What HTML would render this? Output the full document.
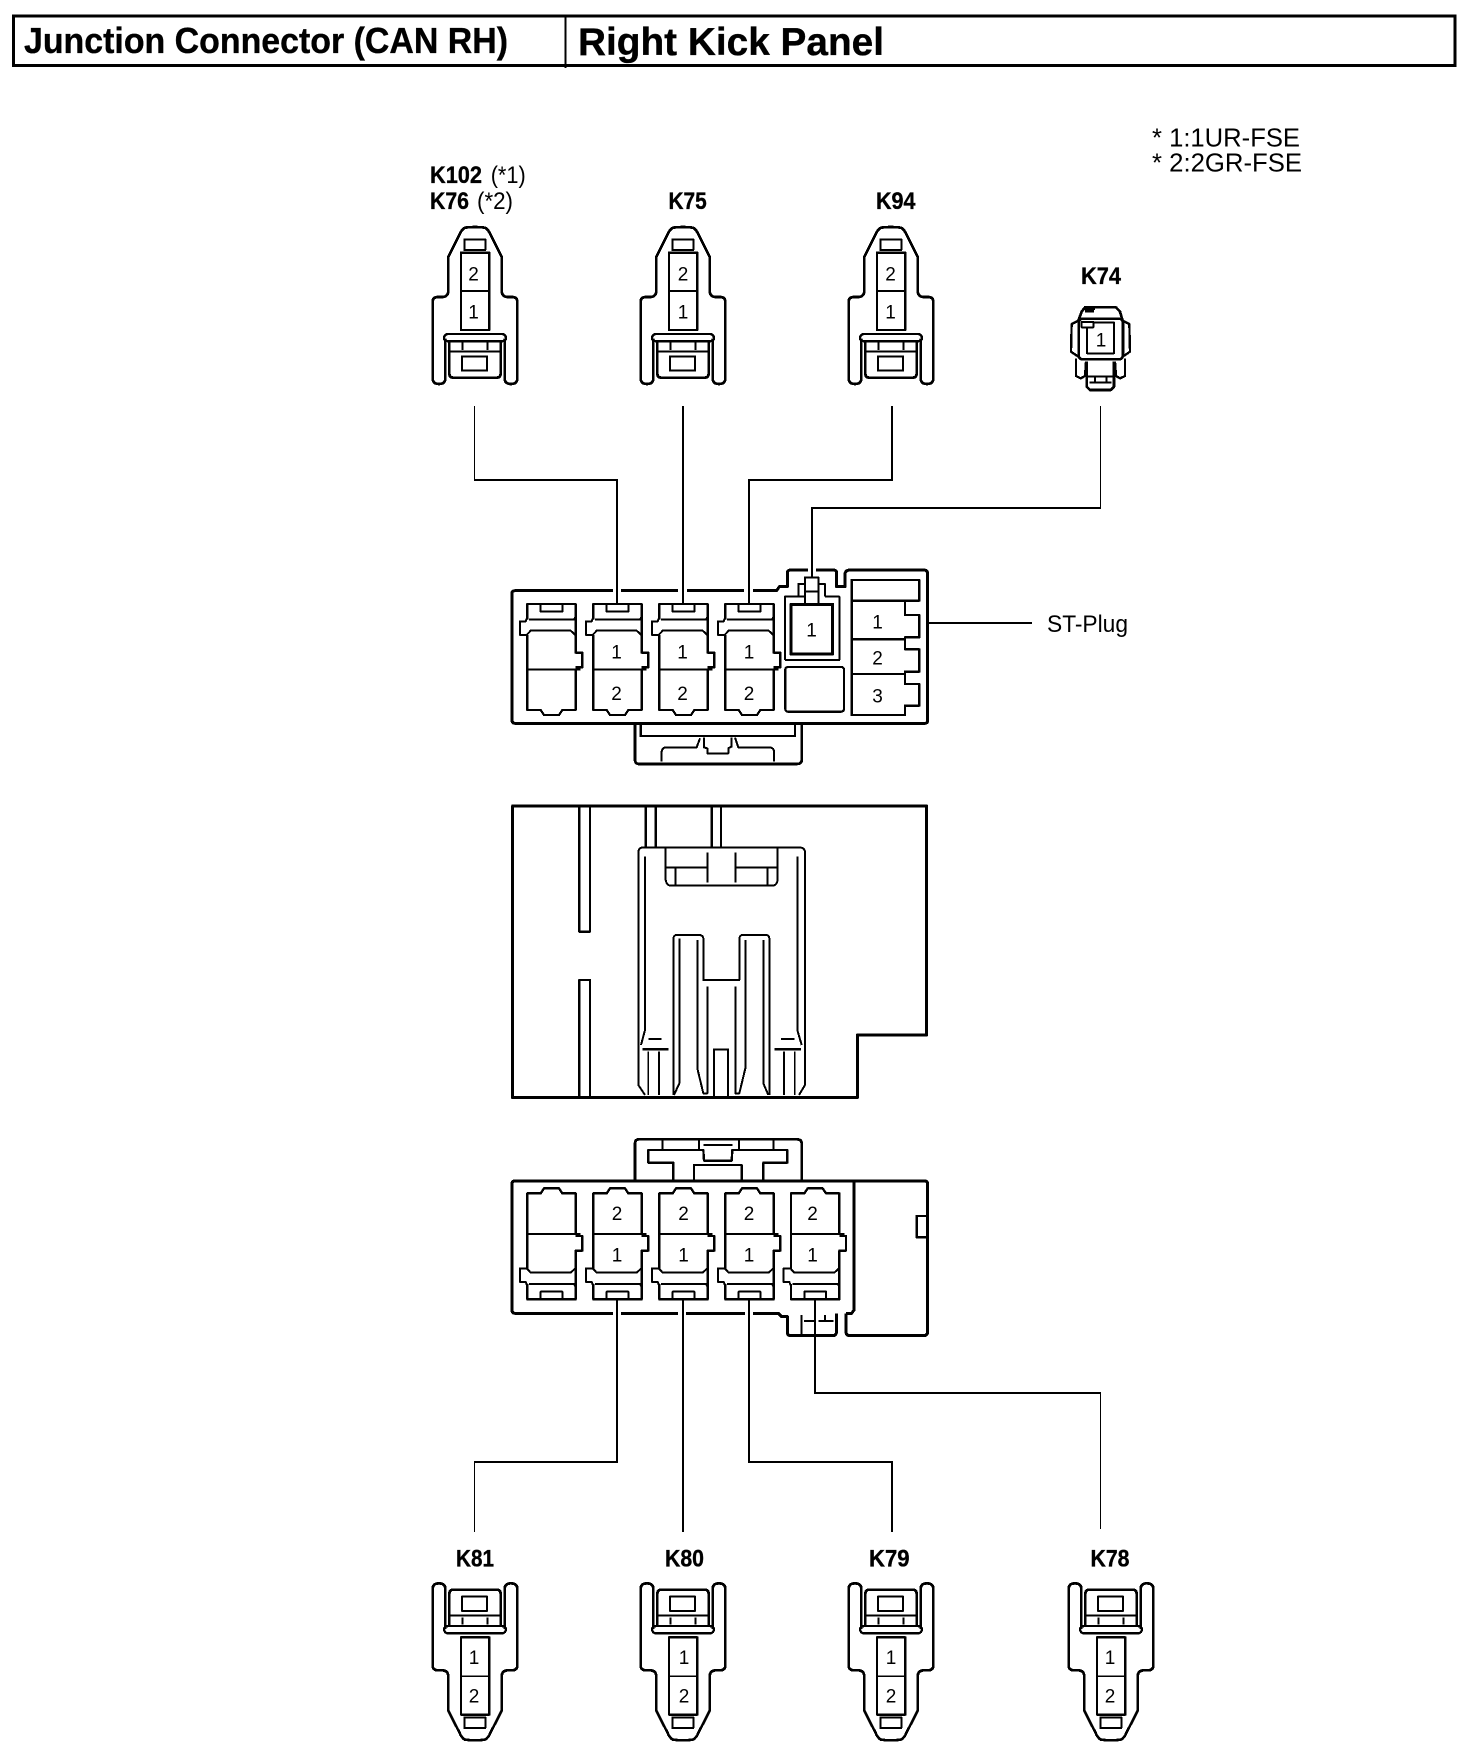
<!DOCTYPE html>
<html>
<head>
<meta charset="utf-8">
<style>
html,body{margin:0;padding:0;background:#fff;width:1472px;height:1760px;overflow:hidden}
svg{display:block}
text{font-family:"Liberation Sans",sans-serif;fill:#000}
.b{font-weight:bold;stroke:#000;stroke-width:.35px}
.n{font-size:19px;text-anchor:middle}
.l{font-size:24px}
.d path,.d rect{fill:none;stroke:#000;stroke-linejoin:round;shape-rendering:crispEdges}
.w rect{shape-rendering:crispEdges}
</style>
</head>
<body>
<svg width="1472" height="1760" viewBox="0 0 1472 1760" xmlns="http://www.w3.org/2000/svg">
<defs>
<g id="conn" class="d">
  <path stroke-width="8" d="M76 535V655Q76 672 57 672Q38 672 38 655V426Q38 412 52 411H68Q83 410 85 395V290L118 225Q125 208 135 203Q150 201 165 201Q180 201 195 203Q205 208 212 225L245 290V395Q247 410 262 411H278Q292 412 292 426V655Q292 672 273 672Q254 672 254 655V535"/>
  <path stroke-width="7" d="M82 522H248Q258 525 258 535Q258 542 245 544H85Q72 542 72 535Q72 525 82 522Z"/>
  <path stroke-width="8" d="M88 544V640Q88 653 100 653H230Q242 653 242 640V544"/>
  <path stroke-width="6" d="M88 575H242M127 548V570M202 548V570"/>
  <rect stroke-width="6" x="126" y="589" width="75" height="43"/>
  <rect stroke-width="6" x="133" y="238" width="63" height="32"/>
  <rect stroke-width="7" x="123" y="278" width="85" height="232"/>
  <path stroke-width="5" d="M123 393H208"/>
</g>
<g id="cav" class="d">
  <path stroke-width="7" d="M280 178V132H425V275"/>
  <path stroke-width="6" d="M320 132V155H385V132"/>
  <path stroke-width="6" d="M280 172L275 184H258V225H278L290 212H410L425 226M285 178H420L425 170"/>
  <path stroke-width="7" d="M280 225V450H320L330 465H375L385 450H425V328"/>
  <path stroke-width="7" d="M425 275V278H445V322H425"/>
  <path stroke-width="6" d="M280 328H440"/>
</g>
</defs>

<!-- header -->
<rect x="13.5" y="16" width="1441.5" height="49.5" fill="none" stroke="#000" stroke-width="3" shape-rendering="crispEdges"/>
<rect x="564.5" y="15" width="2" height="53" fill="#000" shape-rendering="crispEdges"/>
<text class="b" x="24" y="53" font-size="36" textLength="484" lengthAdjust="spacingAndGlyphs">Junction Connector (CAN RH)</text>
<text class="b" x="578" y="55" font-size="39" textLength="306" lengthAdjust="spacingAndGlyphs">Right Kick Panel</text>

<!-- note -->
<text x="1152" y="146.7" font-size="26" textLength="148" lengthAdjust="spacingAndGlyphs">* 1:1UR-FSE</text>
<text x="1152" y="171.7" font-size="26" textLength="150" lengthAdjust="spacingAndGlyphs">* 2:2GR-FSE</text>

<!-- top labels -->
<text class="l b" x="430" y="183" textLength="52" lengthAdjust="spacingAndGlyphs">K102</text>
<text class="l" x="490.7" y="183" textLength="35" lengthAdjust="spacingAndGlyphs">(*1)</text>
<text class="l b" x="430" y="209" textLength="39" lengthAdjust="spacingAndGlyphs">K76</text>
<text class="l" x="477" y="209" textLength="36" lengthAdjust="spacingAndGlyphs">(*2)</text>
<text class="l b" x="668.5" y="209" textLength="38.2" lengthAdjust="spacingAndGlyphs">K75</text>
<text class="l b" x="876" y="209" textLength="39.5" lengthAdjust="spacingAndGlyphs">K94</text>
<text class="l b" x="1081" y="284" textLength="40" lengthAdjust="spacingAndGlyphs">K74</text>

<!-- top plugs -->
<use href="#conn" transform="translate(420,160) scale(.33333)"/>
<use href="#conn" transform="translate(628,160) scale(.33333)"/>
<use href="#conn" transform="translate(836,160) scale(.33333)"/>
<text class="n" x="473.5" y="280.7">2</text>
<text class="n" x="473.5" y="318.7">1</text>
<text class="n" x="683" y="280.7">2</text>
<text class="n" x="683" y="318.7">1</text>
<text class="n" x="890.5" y="280.7">2</text>
<text class="n" x="890.5" y="318.7">1</text>

<!-- K74 plug -->
<g class="d" transform="translate(1040,250) scale(.33333)">
  <path stroke-width="8" d="M115 212L125 185L135 172H228L240 185L248 212"/>
  <path stroke-width="6" d="M135 185H162M135 178H162V172"/>
  <rect stroke-width="8" x="116" y="206" width="133" height="122" rx="12"/>
  <rect stroke-width="6" x="141" y="218" width="81" height="92"/>
  <path stroke-width="7" d="M115 212L95 222L93 305L115 320M248 212L268 222L270 305L248 320"/>
  <path stroke-width="7" d="M108 325V378L122 385L135 378L138 335M255 325V378L240 385L228 378L225 335"/>
  <path stroke-width="8" d="M140 335V410L150 420H212L222 410V335"/>
  <path stroke-width="6" d="M140 380H222M148 398H215M165 380V398M200 380V398"/>
  <path stroke-width="6" d="M125 216H160V232H125Z" style="fill:#fff"/>
</g>
<text class="n" x="1101" y="346.7">1</text>

<!-- main top connector -->
<g class="d" transform="translate(500,560) scale(.33333)">
  <path stroke-width="9" d="M36 100Q36 92 45 92H830L838 80H862V40Q862 30 872 30H1000Q1010 30 1010 40V80H1035V40Q1038 30 1050 30H1270Q1283 30 1283 42V480Q1283 490 1275 490H45Q36 490 36 480Z"/>
  <path stroke-width="8" d="M405 490V600Q405 612 418 612H890Q905 612 905 600V490"/>
  <path stroke-width="7" d="M422 490V528H885V490"/>
  <path stroke-width="6" d="M485 605V575Q487 562 500 562H590L600 535M612 533V562L622 565V580H685V565L695 560V533M705 533L715 562H810Q822 565 822 575V605"/>
  <use href="#cav" transform="translate(-198,0)"/>
  <use href="#cav"/>
  <use href="#cav" transform="translate(198,0)"/>
  <use href="#cav" transform="translate(396,0)"/>
  <path stroke-width="6" d="M855 300V110H915M975 110H1018V300H855M895 110V72H915V52H955V72H975V110M915 72V132M955 72V132M915 95H955"/>
  <rect stroke-width="9" x="873" y="133" width="125" height="149"/>
  <rect stroke-width="7" x="856" y="321" width="176" height="134" rx="8"/>
  <path stroke-width="7" d="M1055 60H1258V122H1055ZM1055 122V465H1215V437H1258V372H1215V335H1258V268H1215V232H1258V165H1215V122M1055 238H1215M1055 342H1215"/>
</g>
<text class="n" x="616.5" y="658.3">1</text>
<text class="n" x="616.5" y="700">2</text>
<text class="n" x="682.5" y="658.3">1</text>
<text class="n" x="682.5" y="700">2</text>
<text class="n" x="749" y="658.3">1</text>
<text class="n" x="749" y="700">2</text>
<text class="n" x="811.5" y="636.7">1</text>
<text class="n" x="877.5" y="628.3">1</text>
<text class="n" x="877.5" y="664.3">2</text>
<text class="n" x="877.5" y="702.3">3</text>

<g class="w"><rect x="926" y="626" width="106" height="2" fill="#000" transform="translate(0,-4)"/></g>
<text x="1052" y="632" font-size="24" textLength="81" lengthAdjust="spacingAndGlyphs" transform="translate(-5,0)">ST-Plug</text>

<!-- middle housing -->
<g class="d" transform="translate(500,800) scale(.33333)">
  <path stroke-width="9" d="M38 18H1280V705H1072V893H38Z"/>
  <path stroke-width="7" d="M238 18V395H270V18M238 893V540H270V893"/>
  <path stroke-width="7" d="M437 18V140M467 18V140M635 18V140M663 18V140"/>
  <path stroke-width="6" d="M435 885L415 855V155Q416 144 428 142H900Q914 144 915 155V855L897 885"/>
  <path stroke-width="6" d="M428 142H900"/>
  <path stroke-width="6" d="M435 170V690L423 735M892 170V690L905 735"/>
  <path stroke-width="6" d="M497 145V240Q500 255 510 257H820Q830 255 833 240V145"/>
  <path stroke-width="6" d="M500 203H622M706 203H830M622 157V247M706 157V247M527 203V257M802 203V257"/>
  <path stroke-width="6" d="M520 885V415Q522 405 530 405H600Q610 407 610 415V540H718V415Q720 405 728 405H800Q808 407 808 415V885"/>
  <path stroke-width="6" d="M538 415V850L522 885M592 420V805L610 880H622V560M706 560V880H718L736 805V420M790 420V850L805 885"/>
  <path stroke-width="6" d="M642 890V748H684V890"/>
  <path stroke-width="7" d="M427 748H505M823 748H903"/>
  <path stroke-width="5" d="M445 717H485M843 717H883M445 755V885M477 755V885M852 755V885M884 755V885"/>
</g>

<!-- bottom main connector -->
<g class="d" transform="translate(500,1130) scale(.33333)">
  <path stroke-width="9" d="M1062 153V540L1055 550H1038M1010 550V605Q1008 617 1000 617H872Q862 617 862 605V560H845L835 550H45Q36 550 36 540V162Q36 153 45 153H1275Q1283 153 1283 162V605Q1283 617 1270 617H1050Q1038 617 1038 605V550"/>
  <rect stroke-width="7" x="1250" y="258" width="33" height="64"/>
  <path stroke-width="8" d="M405 153V40Q405 28 418 28H890Q905 28 905 40V153"/>
  <path stroke-width="7" d="M520 153V98H445V60H610L612 92H695L697 60H862V98H790V153M582 153V105H725V153"/>
  <path stroke-width="6" d="M487 30V58M597 30V58M717 30V58M820 30V58"/>
  <path stroke-width="7" d="M610 45H698"/>
  <path stroke-width="6" d="M905 555V612M912 573H945M955 573H1000M975 555V575"/>
  <g transform="translate(0,640) scale(1,-1)">
    <use href="#cav" transform="translate(-198,0)"/>
    <use href="#cav"/>
    <use href="#cav" transform="translate(198,0)"/>
    <use href="#cav" transform="translate(396,0)"/>
    <use href="#cav" transform="translate(593,0)"/>
  </g>
</g>
<text class="n" x="617" y="1220">2</text>
<text class="n" x="617" y="1261.7">1</text>
<text class="n" x="683.5" y="1220">2</text>
<text class="n" x="683.5" y="1261.7">1</text>
<text class="n" x="749" y="1220">2</text>
<text class="n" x="749" y="1261.7">1</text>
<text class="n" x="812.5" y="1220">2</text>
<text class="n" x="812.5" y="1261.7">1</text>

<!-- wire halos -->
<g fill="#fff" class="w">
  <rect x="613" y="585" width="8" height="13"/>
  <rect x="678" y="585" width="9" height="13"/>
  <rect x="744" y="585" width="9" height="13"/>
  <rect x="808" y="564" width="8" height="8"/>
  <rect x="613" y="1308" width="8" height="10"/>
  <rect x="678" y="1308" width="8" height="10"/>
  <rect x="745" y="1308" width="8" height="10"/>
  <rect x="811" y="1308" width="8" height="10"/>
</g>

<!-- wires -->
<g fill="#000" class="w">
  <rect x="474" y="406" width="1" height="75"/>
  <rect x="474" y="479" width="144" height="2"/>
  <rect x="616" y="480" width="2" height="123"/>
  <rect x="682" y="406" width="2" height="197"/>
  <rect x="891" y="406" width="2" height="75"/>
  <rect x="748" y="479" width="145" height="2"/>
  <rect x="748" y="480" width="2" height="123"/>
  <rect x="1100" y="406" width="1" height="103"/>
  <rect x="811" y="507" width="290" height="2"/>
  <rect x="811" y="508" width="2" height="69"/>

  <rect x="616" y="1298" width="2" height="165"/>
  <rect x="474" y="1461" width="144" height="2"/>
  <rect x="474" y="1462" width="1" height="70"/>
  <rect x="682" y="1298" width="2" height="234"/>
  <rect x="748" y="1298" width="2" height="165"/>
  <rect x="748" y="1461" width="145" height="2"/>
  <rect x="891" y="1462" width="2" height="70"/>
  <rect x="814" y="1298" width="2" height="96"/>
  <rect x="814" y="1392" width="287" height="2"/>
  <rect x="1100" y="1393" width="1" height="136"/>
</g>

<!-- bottom labels -->
<text class="l b" x="456" y="1566.3" textLength="38" lengthAdjust="spacingAndGlyphs">K81</text>
<text class="l b" x="665" y="1566.3" textLength="39" lengthAdjust="spacingAndGlyphs">K80</text>
<text class="l b" x="869" y="1566.3" textLength="40.5" lengthAdjust="spacingAndGlyphs">K79</text>
<text class="l b" x="1090.5" y="1566.3" textLength="39" lengthAdjust="spacingAndGlyphs">K78</text>

<!-- bottom plugs -->
<use href="#conn" transform="translate(420,1807.33) scale(.33333,-.33333)"/>
<use href="#conn" transform="translate(628,1807.33) scale(.33333,-.33333)"/>
<use href="#conn" transform="translate(836,1807.33) scale(.33333,-.33333)"/>
<use href="#conn" transform="translate(1056,1807.33) scale(.33333,-.33333)"/>
<text class="n" x="474" y="1664">1</text>
<text class="n" x="474" y="1702.7">2</text>
<text class="n" x="684" y="1664">1</text>
<text class="n" x="684" y="1702.7">2</text>
<text class="n" x="891" y="1664">1</text>
<text class="n" x="891" y="1702.7">2</text>
<text class="n" x="1110" y="1664">1</text>
<text class="n" x="1110" y="1702.7">2</text>
</svg>
</body>
</html>
